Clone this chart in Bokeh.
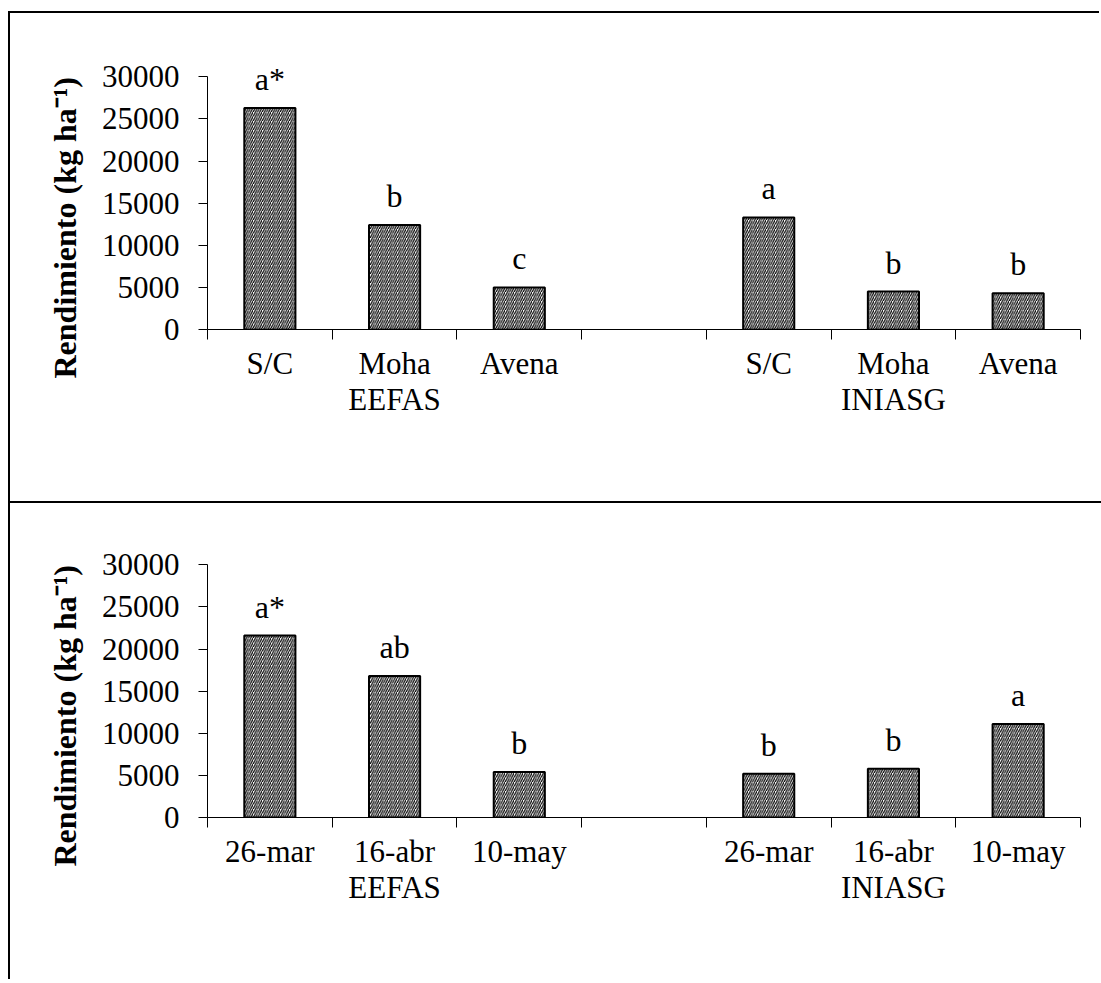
from bokeh.plotting import figure
from bokeh.models import FixedTicker, LabelSet, ColumnDataSource, Range1d, Title
from bokeh.layouts import column
from bokeh.embed import file_html
from bokeh.resources import INLINE
from bokeh.core.properties import value

# ---- data ----
sites = ["EEFAS", "INIASG"]
cats_top = ["S/C", "Moha", "Avena", "", "S/C", "Moha", "Avena"]
yield_top = [26300, 12400, 5000, None, 13300, 4500, 4300]
letters_top = ["a*", "b", "c", "", "a", "b", "b"]

cats_bot = ["26-mar", "16-abr", "10-may", "", "26-mar", "16-abr", "10-may"]
yield_bot = [21600, 16800, 5400, None, 5200, 5800, 11100]
letters_bot = ["a*", "ab", "b", "", "b", "b", "a"]

y_ticks = [0, 5000, 10000, 15000, 20000, 25000, 30000]
y_tick_labels = ["0", "5000", "10000", "15000", "20000", "25000", "30000"]
y_max = 30000
y_top = 33000
y_title = "Rendimiento (kg ha\u207b\u00b9)"

FONT = "Liberation Serif"


def make_panel(cats, vals, letters, height, top, bottom, styles):
    n = len(cats)
    xs = [i + 0.5 for i in range(n)]
    keep = [i for i in range(n) if vals[i] is not None]
    src = ColumnDataSource(dict(
        x=[xs[i] for i in keep],
        top=[vals[i] for i in keep],
        lab=[letters[i] for i in keep],
    ))
    p = figure(width=1091, height=height, x_range=Range1d(0, n), y_range=Range1d(0, y_top),
               output_backend="svg", toolbar_location=None,
               min_border_left=197, min_border_right=21,
               min_border_top=top, min_border_bottom=bottom, styles=styles)
    p.outline_line_color = None
    p.xgrid.visible = False
    p.ygrid.visible = False
    p.background_fill_color = "white"
    p.border_fill_color = "white"

    p.vbar(x="x", top="top", bottom=0, width=0.41, source=src,
           fill_color="white", line_color="black", line_width=2,
           hatch_pattern="/", hatch_color="black", hatch_scale=4.5, hatch_weight=1.2)

    labels = LabelSet(x="x", y="top", text="lab", source=src, y_offset=18,
                      text_align="center", text_baseline="alphabetic",
                      text_font=value(FONT), text_font_size="32px", text_color="black")
    p.add_layout(labels)

    xa = p.xaxis[0]
    xa.ticker = FixedTicker(ticks=xs, minor_ticks=list(range(n + 1)))
    overrides = {}
    for i, c in enumerate(cats):
        lab = c
        if i == 1:
            lab = c + "\n" + sites[0]
        elif i == 5:
            lab = c + "\n" + sites[1]
        overrides[xs[i]] = lab
    xa.major_label_overrides = overrides
    xa.major_tick_line_color = None
    xa.major_tick_out = 10
    xa.major_tick_in = 0
    xa.minor_tick_line_color = "black"
    xa.minor_tick_out = 10
    xa.minor_tick_in = 0
    xa.axis_line_color = "black"
    xa.axis_line_width = 1
    xa.major_label_text_font = FONT
    xa.major_label_text_font_size = "31px"
    xa.major_label_text_line_height = 1.03
    xa.major_label_text_color = "black"
    xa.major_label_standoff = 6

    ya = p.yaxis[0]
    ya.ticker = FixedTicker(ticks=y_ticks)
    ya.bounds = (0, y_max)
    ya.major_label_overrides = {t: s for t, s in zip(y_ticks, y_tick_labels)}
    ya.major_tick_out = 9
    ya.major_tick_in = 0
    ya.minor_tick_line_color = None
    ya.axis_line_color = "black"
    ya.major_tick_line_color = "black"
    ya.major_label_text_font = FONT
    ya.major_label_text_font_size = "31px"
    ya.major_label_text_color = "black"
    ya.major_label_standoff = 19

    title = Title(text=y_title, align="left", offset=-49, standoff=31,
                  text_font=FONT, text_font_style="bold", text_font_size="32px",
                  text_color="black")
    p.add_layout(title, "left")
    return p


p1 = make_panel(cats_top, yield_top, letters_top, 488, 38, 172, {})
p2 = make_panel(cats_bot, yield_bot, letters_bot, 478, 36, 164,
                {"box-shadow": "0 -2px 0 0 black"})

layout = column(p1, p2, margin=(13, 0, 0, 10), spacing=2,
                styles={"box-shadow": "-2px -2px 0 0 black"})

open("out.html", "w").write(file_html(layout, INLINE))
